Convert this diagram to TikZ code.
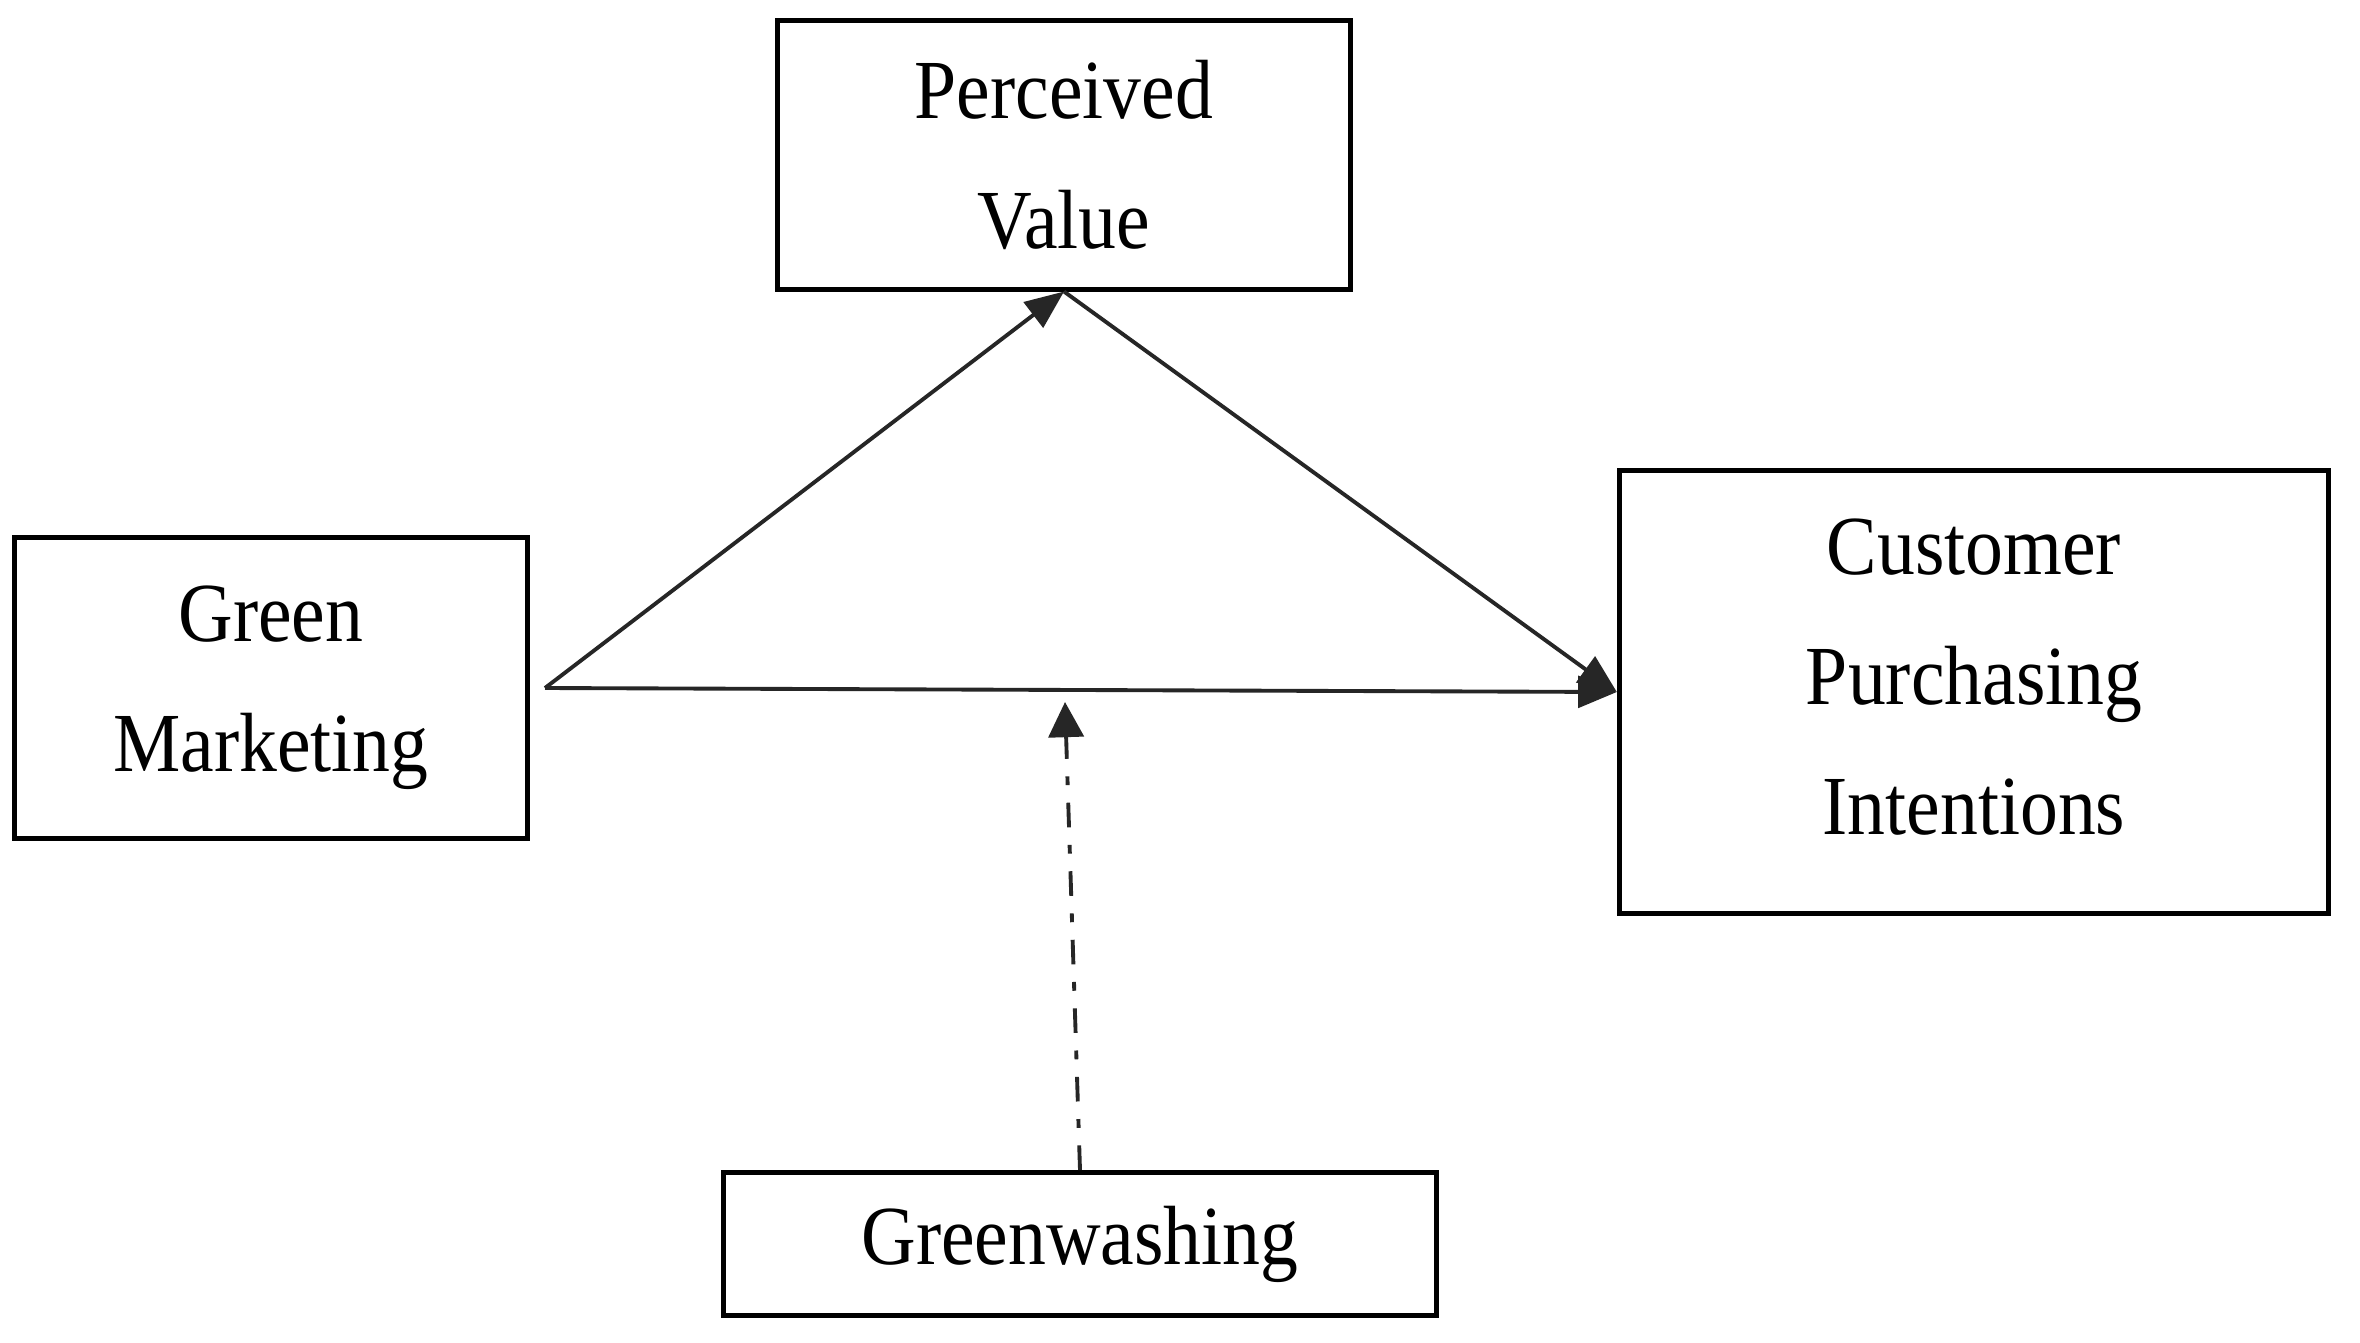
\documentclass[tikz,border=0pt]{standalone}
\usepackage{fontspec}
\setmainfont[FakeStretch=0.9]{Liberation Serif}
\usetikzlibrary{arrows.meta}
\begin{document}
\begin{tikzpicture}[x=0.01cm,y=-0.01cm,
  boxfont/.style={font=\fontsize{23.9}{37}\selectfont,align=center},
  box/.style={draw=black,line width=1.4pt,fill=white,inner sep=0pt,boxfont},
  conn/.style={line width=1.1pt,draw=black!85,-{Triangle[length=11pt,width=9pt]}},
  modline/.style={line width=1.1pt,draw=black!85,dash pattern=on 7pt off 5pt on 2.5pt off 5pt,
    -{Triangle[length=10pt,width=10pt]}}]
\useasboundingbox[fill=white] (0,0) rectangle (2360,1342);
\node[box,minimum width=5.72cm,minimum height=2.68cm] (pv) at (1064,155) {Perceived\\Value};
\node[box,minimum width=5.12cm,minimum height=3.01cm] (gm) at (271,688) {Green\\Marketing};
\node[box,minimum width=7.09cm,minimum height=4.43cm,
  label={[boxfont,yshift=0.15cm]center:Customer\\Purchasing\\Intentions}] (cpi) at (1974,692) {};
\node[box,minimum width=7.13cm,minimum height=1.43cm] (gw) at (1080,1244) {Greenwashing};
\coordinate (gmout) at (545,688);
\coordinate (modtip) at (1065,702);
\draw[conn] (gmout) -- (pv.south);
\draw[conn] (pv.south) -- (cpi.west);
\draw[conn] (gmout) -- (cpi.west);
\draw[modline] (gw.north) -- (modtip);
\end{tikzpicture}
\end{document}
